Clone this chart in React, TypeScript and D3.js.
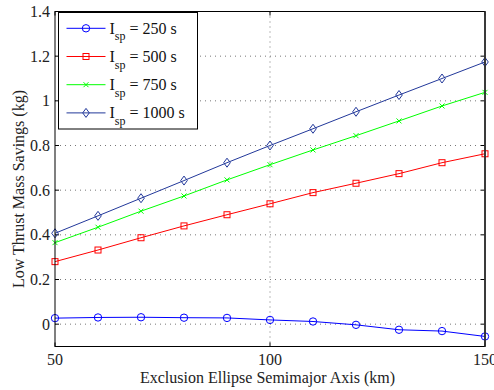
import React from "react";
import * as d3 from "d3";

const xValues = [50, 60, 70, 80, 90, 100, 110, 120, 130, 140, 150];
const isp250 = [0.027, 0.03, 0.031, 0.029, 0.028, 0.019, 0.012, -0.003, -0.025, -0.031, -0.055];
const isp500 = [0.28, 0.332, 0.387, 0.44, 0.49, 0.539, 0.589, 0.631, 0.674, 0.723, 0.763];
const isp750 = [0.365, 0.434, 0.506, 0.574, 0.646, 0.714, 0.78, 0.844, 0.91, 0.977, 1.038];
const isp1000 = [0.407, 0.485, 0.564, 0.643, 0.723, 0.8, 0.875, 0.951, 1.026, 1.1, 1.174];
const seriesLabels = ["250 s", "500 s", "750 s", "1000 s"];
const xTicks = [50, 100, 150];
const yTicks = [0, 0.2, 0.4, 0.6, 0.8, 1, 1.2, 1.4];

const series = [
  { name: seriesLabels[0], values: isp250, color: "#0000ff", marker: "circle" },
  { name: seriesLabels[1], values: isp500, color: "#ff0000", marker: "square" },
  { name: seriesLabels[2], values: isp750, color: "#00ff00", marker: "x" },
  { name: seriesLabels[3], values: isp1000, color: "#22389a", marker: "diamond" },
];

const L = 55, R = 485, T = 11.5, B = 346.5;
const FONT = "'Liberation Serif', 'DejaVu Serif', serif";

function Marker({ type, x, y, color }: { type: string; x: number; y: number; color: string }) {
  if (type === "circle") return <circle cx={x} cy={y} r={3.7} fill="none" stroke={color} strokeWidth={1} />;
  if (type === "square") return <rect x={x - 3} y={y - 3} width={6} height={6} fill="none" stroke={color} strokeWidth={1} />;
  if (type === "diamond")
    return <path d={`M${x},${y - 4.5}L${x + 3.3},${y}L${x},${y + 4.5}L${x - 3.3},${y}Z`} fill="none" stroke={color} strokeWidth={1} />;
  return <path d={`M${x - 2.5},${y - 2.5}L${x + 2.5},${y + 2.5}M${x - 2.5},${y + 2.5}L${x + 2.5},${y - 2.5}`} stroke={color} strokeWidth={1} />;
}

export default function App() {
  const x = d3.scaleLinear().domain([50, 150]).range([L, R]);
  const y = d3.scaleLinear().domain([-0.1, 1.4]).range([B, T]);
  const line = d3.line<number>().x((_, i) => x(xValues[i])).y((d) => y(d));

  return (
    <svg width={494} height={390} style={{ position: "absolute", left: 0, top: 0, background: "#fff" }}>
      <rect x={0} y={0} width={494} height={390} fill="#fff" />
      {/* grid */}
      {yTicks.map((t) => (
        <line key={"gy" + t} x1={L} x2={R} y1={y(t)} y2={y(t)} stroke="#777" strokeWidth={1} strokeDasharray="1,4" />
      ))}
      {xTicks.slice(1, -1).map((t) => (
        <line key={"gx" + t} x1={x(t)} x2={x(t)} y1={T} y2={B} stroke="#777" strokeWidth={1} strokeDasharray="1,4" />
      ))}
      {/* ticks */}
      {yTicks.map((t) => (
        <g key={"ty" + t}>
          <line x1={L} x2={L + 4} y1={y(t)} y2={y(t)} stroke="#000" />
          <line x1={R} x2={R - 4} y1={y(t)} y2={y(t)} stroke="#000" />
          <text x={50} y={y(t)} dy="0.35em" textAnchor="end" fontFamily={FONT} fontSize={16} fill="#222">
            {d3.format("~g")(t)}
          </text>
        </g>
      ))}
      {xTicks.map((t) => (
        <g key={"tx" + t}>
          <line x1={x(t)} x2={x(t)} y1={B} y2={B - 4} stroke="#000" />
          <line x1={x(t)} x2={x(t)} y1={T} y2={T + 4} stroke="#000" />
          <text x={x(t)} y={365} textAnchor="middle" fontFamily={FONT} fontSize={16} fill="#222">
            {t}
          </text>
        </g>
      ))}
      {/* series */}
      {series.map((s) => (
        <g key={s.name}>
          <path d={line(s.values) || ""} fill="none" stroke={s.color} strokeWidth={1} />
          {s.values.map((v, i) => (
            <Marker key={i} type={s.marker} x={x(xValues[i])} y={y(v)} color={s.color} />
          ))}
        </g>
      ))}
      {/* axes box */}
      <rect x={L} y={T} width={R - L} height={B - T} fill="none" stroke="#000" strokeWidth={1} />
      <line x1={R} x2={R} y1={T} y2={B} stroke="#333" strokeWidth={1.8} />
      {/* legend */}
      <rect x={58.5} y={12.5} width={139} height={116.5} fill="#fff" stroke="#000" strokeWidth={1} />
      {series.map((s, i) => {
        const ly = 28.3 + i * 28.2;
        return (
          <g key={"lg" + s.name}>
            <line x1={66.5} x2={105.5} y1={ly} y2={ly} stroke={s.color} strokeWidth={1} />
            <Marker type={s.marker} x={86} y={ly} color={s.color} />
            <text x={109.5} y={ly + 5.5} fontFamily={FONT} fontSize={16} fill="#111">
              I
              <tspan dy={6.5} fontSize={12}>sp</tspan>
              <tspan dy={-6.5}>{" = " + s.name}</tspan>
            </text>
          </g>
        );
      })}
      {/* axis labels */}
      <text x={267.5} y={382.5} textAnchor="middle" fontFamily={FONT} fontSize={16} fill="#222">
        Exclusion Ellipse Semimajor Axis (km)
      </text>
      <text
        transform={`translate(24,189) rotate(-90)`}
        textAnchor="middle"
        fontFamily={FONT}
        fontSize={16}
        fill="#222"
      >
        Low Thrust Mass Savings (kg)
      </text>
    </svg>
  );
}
